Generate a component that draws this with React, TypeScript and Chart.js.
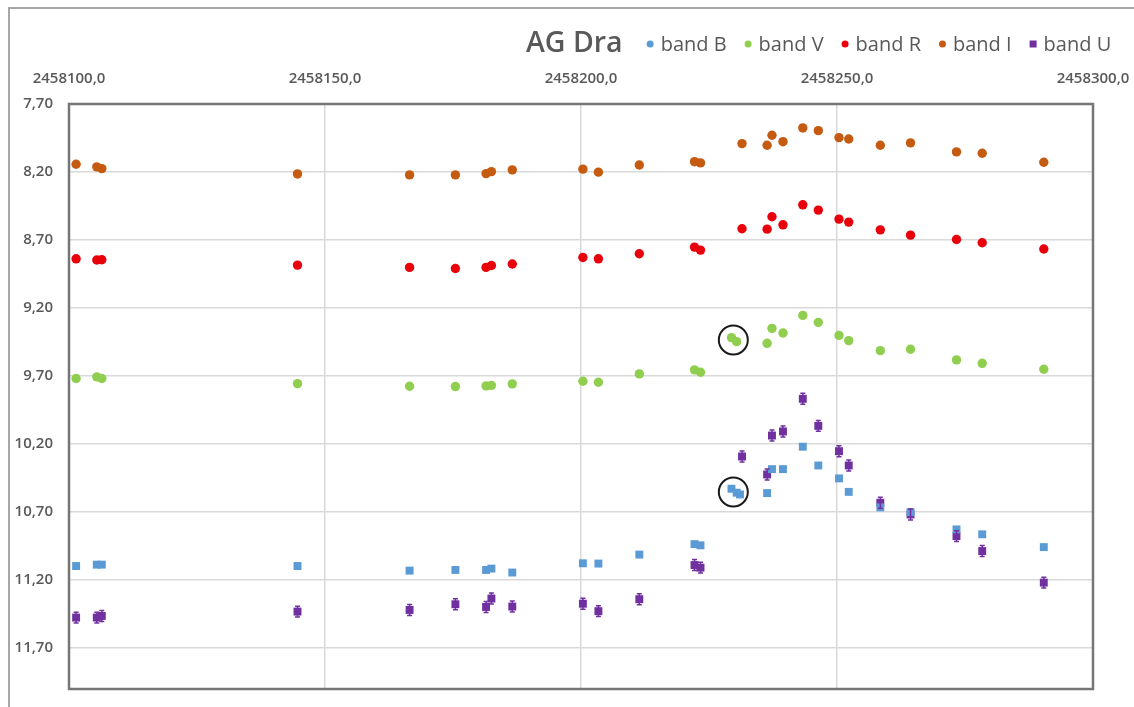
import { useEffect, useRef } from 'react';
import { Chart, registerables } from 'chart.js';

Chart.register(...registerables);

// Observation epochs (Julian Date) shared by all bands
const observationJD = [
  2458101.39, 2458105.43, 2458106.41, 2458144.63, 2458166.52, 2458175.47,
  2458181.46, 2458182.5, 2458186.58, 2458200.37, 2458203.4, 2458211.39,
  2458222.17, 2458223.34, 2458229.39, 2458230.4, 2458231.05, 2458231.45,
  2458236.35, 2458237.3, 2458239.45, 2458243.32, 2458246.35, 2458250.39,
  2458252.29, 2458258.46, 2458264.36, 2458273.34, 2458278.36, 2458290.39,
];

// Magnitudes per band (null = no measurement at that epoch)
const magB = [
  11.096, 11.086, 11.086, 11.096, 11.13, 11.125,
  11.125, 11.115, 11.144, 11.076, 11.078, 11.012,
  10.935, 10.944, 10.528, 10.557, 10.57, null,
  10.56, 10.384, 10.384, 10.219, 10.357, 10.452,
  10.551, 10.665, 10.7, 10.827, 10.863, 10.957,
];
const magV = [
  9.718, 9.706, 9.718, 9.755, 9.775, 9.777,
  9.772, 9.768, 9.757, 9.738, 9.745, 9.684,
  9.654, 9.672, 9.417, 9.447, null, null,
  9.459, 9.349, 9.383, 9.254, 9.305, 9.401,
  9.439, 9.513, 9.503, 9.581, 9.606, 9.65,
];
const magR = [
  8.838, 8.847, 8.845, 8.884, 8.901, 8.909,
  8.901, 8.887, 8.876, 8.828, 8.838, 8.801,
  8.752, 8.774, null, null, null, 8.617,
  8.62, 8.529, 8.588, 8.441, 8.48, 8.546,
  8.568, 8.625, 8.664, 8.696, 8.72, 8.766,
];
const magI = [
  8.143, 8.162, 8.175, 8.214, 8.221, 8.221,
  8.212, 8.197, 8.184, 8.179, 8.201, 8.148,
  8.124, 8.133, null, null, null, 7.991,
  8.003, 7.93, 7.977, 7.876, 7.896, 7.947,
  7.957, 8.003, 7.986, 8.052, 8.062, 8.128,
];
const magU = [
  11.475, 11.475, 11.463, 11.431, 11.419, 11.377,
  11.397, 11.335, 11.394, 11.373, 11.428, 11.34,
  11.089, 11.108, null, null, null, 10.291,
  10.423, 10.137, 10.107, 9.867, 10.066, 10.252,
  10.357, 10.631, 10.717, 10.876, 10.986, 11.218,
];
// U-band photometric uncertainty (mag)
const errU = 0.04;

const bandLabels = ['band B', 'band V', 'band R', 'band I', 'band U'];
const bandColors = ['#5b9bd5', '#8fce4f', '#e8000b', '#c55a11', '#7030a0'];

// Axis ticks
const xTickValues = [2458100, 2458150, 2458200, 2458250, 2458300];
const xTickLabels = ['2458100,0', '2458150,0', '2458200,0', '2458250,0', '2458300,0'];
const yTickValues = [7.7, 8.2, 8.7, 9.2, 9.7, 10.2, 10.7, 11.2, 11.7];
const yTickLabels = ['7,70', '8,20', '8,70', '9,20', '9,70', '10,20', '10,70', '11,20', '11,70'];

// Highlighted measurements (ringed)
const ringJD = [2458229.75, 2458229.75];
const ringMag = [9.435, 10.552];

const chartTitle = 'AG Dra';
const FONT = "'Open Sans', 'DejaVu Sans', sans-serif";
const TEXT = '#595959';

const plotFrame = {
  id: 'plotFrame',
  beforeDatasetsDraw(chart: any) {
    const { ctx, chartArea: a } = chart;
    ctx.save();
    ctx.strokeStyle = '#767676';
    ctx.lineWidth = 2.5;
    ctx.strokeRect(a.left, a.top, a.right - a.left, a.bottom - a.top);
    ctx.restore();
  },
};

const uErrorBars = {
  id: 'uErrorBars',
  afterDatasetsDraw(chart: any) {
    const { ctx, scales } = chart;
    ctx.save();
    ctx.strokeStyle = bandColors[4];
    ctx.lineWidth = 1.5;
    observationJD.forEach((jd, i) => {
      const m = magU[i];
      if (m == null) return;
      const x = scales.x.getPixelForValue(jd);
      const y1 = scales.y.getPixelForValue(m - errU);
      const y2 = scales.y.getPixelForValue(m + errU);
      ctx.beginPath();
      ctx.moveTo(x, y1);
      ctx.lineTo(x, y2);
      ctx.moveTo(x - 2.5, y1);
      ctx.lineTo(x + 2.5, y1);
      ctx.moveTo(x - 2.5, y2);
      ctx.lineTo(x + 2.5, y2);
      ctx.stroke();
    });
    // rings around the highlighted measurements
    ctx.strokeStyle = '#1a1a1a';
    ctx.lineWidth = 2;
    ringJD.forEach((jd, i) => {
      const x = scales.x.getPixelForValue(jd);
      const y = scales.y.getPixelForValue(ringMag[i]);
      ctx.beginPath();
      ctx.arc(x, y, 14.5, 0, Math.PI * 2);
      ctx.stroke();
    });
    ctx.restore();
  },
};

const titleLegend = {
  id: 'titleLegend',
  afterDraw(chart: any) {
    const { ctx } = chart;
    ctx.save();
    ctx.textBaseline = 'middle';
    ctx.fillStyle = TEXT;
    ctx.font = `600 28.5px ${FONT}`;
    const titleX = 526;
    const y = 44;
    ctx.fillText(chartTitle, titleX, y);
    let x = titleX + ctx.measureText(chartTitle).width + 24;
    ctx.font = `20px ${FONT}`;
    chart.data.datasets.forEach((ds: any) => {
      ctx.fillStyle = ds.backgroundColor;
      if (ds.label === 'band U') {
        ctx.fillRect(x, y - 3.5, 7, 7);
      } else {
        ctx.beginPath();
        ctx.arc(x + 3.5, y, 3.5, 0, Math.PI * 2);
        ctx.fill();
      }
      x += 14;
      ctx.fillStyle = TEXT;
      ctx.fillText(ds.label, x, y + 1);
      x += ctx.measureText(ds.label).width + 18;
    });
    ctx.restore();
  },
};

// keep the plot area fixed: no extra room for label overhang
const noOverhang = (s: any) => {
  s.paddingLeft = 0;
  s.paddingRight = 0;
  s.paddingTop = 0;
  s.paddingBottom = 0;
};

export default function App() {
  const canvasRef = useRef<HTMLCanvasElement | null>(null);

  useEffect(() => {
    if (!canvasRef.current) return;
    const series = [magB, magV, magR, magI, magU];
    const shapes = ['rect', 'circle', 'circle', 'circle', 'rect'];
    const chart = new Chart(canvasRef.current, {
      type: 'scatter',
      data: {
        datasets: series.map((mags, k) => ({
          label: bandLabels[k],
          data: observationJD
            .map((jd, i) => ({ x: jd, y: mags[i] }))
            .filter((p) => p.y != null),
          backgroundColor: bandColors[k],
          borderColor: bandColors[k],
          borderWidth: 0,
          pointStyle: shapes[k],
          pointRadius: shapes[k] === 'rect' ? 5.6 : 4.7,
        })),
      } as any,
      options: {
        animation: false,
        responsive: false,
        layout: { padding: { top: 64, left: 0, right: 41, bottom: 18 } },
        plugins: { legend: { display: false }, title: { display: false }, tooltip: { enabled: false } },
        scales: {
          x: {
            type: 'linear',
            position: 'top',
            min: 2458100,
            max: 2458300,
            afterBuildTicks: (s: any) => {
              s.ticks = xTickValues.map((v) => ({ value: v }));
            },
            afterFit: (s: any) => {
              s.height = 40;
              noOverhang(s);
            },
            ticks: {
              autoSkip: false,
              maxRotation: 0,
              padding: 16,
              color: TEXT,
              font: { family: FONT, size: 15, weight: '600' },
              callback: (_v: any, i: number) => xTickLabels[i],
            },
            grid: { color: '#d9d9d9', lineWidth: 1.5, drawTicks: false },
            border: { display: false },
          },
          y: {
            type: 'linear',
            reverse: true,
            min: 7.7,
            max: 12.0,
            afterBuildTicks: (s: any) => {
              s.ticks = yTickValues.map((v) => ({ value: v }));
            },
            afterFit: (s: any) => {
              s.width = 69;
              noOverhang(s);
            },
            ticks: {
              autoSkip: false,
              padding: 16,
              color: TEXT,
              font: { family: FONT, size: 15, weight: '600' },
              callback: (_v: any, i: number) => yTickLabels[i],
            },
            grid: { color: '#d9d9d9', lineWidth: 1.5, drawTicks: false },
            border: { display: false },
          },
        },
      } as any,
      plugins: [plotFrame, uErrorBars, titleLegend],
    });
    return () => chart.destroy();
  }, []);

  return (
    <div style={{ position: 'fixed', left: 0, top: 0, width: 1134, height: 707, background: '#fff', overflow: 'hidden' }}>
      <div
        style={{
          position: 'absolute',
          left: 8,
          top: 7,
          width: 1200,
          height: 800,
          borderLeft: '2px solid #a6a6a6',
          borderTop: '2px solid #a6a6a6',
        }}
      />
      <canvas ref={canvasRef} width={1134} height={707} style={{ position: 'absolute', left: 0, top: 0 }} />
    </div>
  );
}
